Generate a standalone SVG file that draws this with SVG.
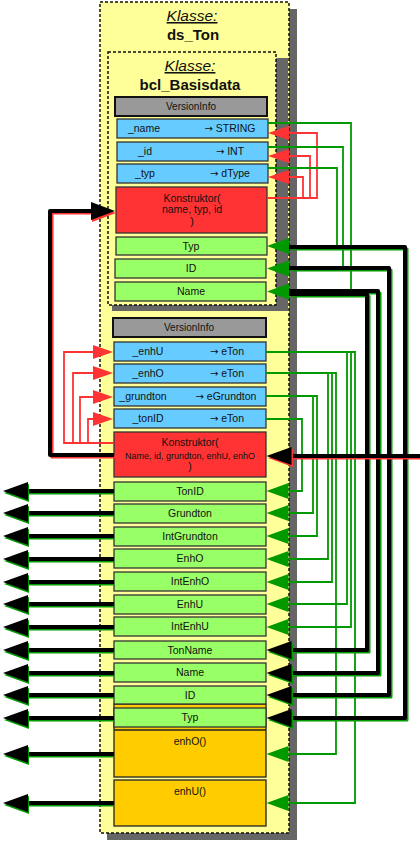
<svg xmlns="http://www.w3.org/2000/svg" width="420" height="841" viewBox="0 0 420 841">
<defs>
<style>
text{font-family:"Liberation Sans",Arial,sans-serif;fill:#111}
.t{font-size:10.5px;text-anchor:middle}
.ts{font-size:9px;text-anchor:middle}
.ar{font-family:"DejaVu Sans",sans-serif;font-size:10px}
.kl{font-size:15.5px;font-style:italic;text-decoration:underline;text-anchor:middle}
.cn{font-size:15px;font-weight:bold;text-anchor:middle}
.vi{fill:#999999;stroke:#111;stroke-width:2}
.fld{fill:#66CCFF;stroke:#333;stroke-width:1.3}
.ctor{fill:#FF3333;stroke:#333;stroke-width:1.3}
.get{fill:#99FF66;stroke:#333;stroke-width:1.3}
.mth{fill:#FFCC00;stroke:#222;stroke-width:1.3}
.cls{fill:#FFFF99;stroke:#111;stroke-width:1.5;stroke-dasharray:3 2}
.sh{fill:#666666}
.g{fill:none;stroke:#009900;stroke-width:1.8}
.r{fill:none;stroke:#FF3333;stroke-width:1.8}
.bk{fill:none;stroke:#000;stroke-width:4;stroke-linejoin:round}
.bkg{fill:none;stroke:#009900;stroke-width:3;stroke-linejoin:round}
.bkr{fill:none;stroke:#FF3333;stroke-width:3}
.ga{fill:#009900}
.ra{fill:#FF3333}
.ba{fill:#000}
</style>
<polygon id="ahL" points="0,0 22,-8 22,8"/>
<polygon id="ahLr" points="0,0 21,-7 21,7"/>
<polygon id="ahB" points="0,0 25,-9 25,9"/>
<polygon id="ahR" points="0,0 -20,-7 -20,7"/>
<polygon id="ahRB" points="0,0 -24,-9 -24,9"/>
<path id="bT" d="M292,718 H405 V247 H289"/>
<path id="bI" d="M292,695 H389 V268 H289"/>
<path id="bN" d="M292,673 H378 V291 H289"/>
<path id="bTN" d="M292,650 H367 V294 H289"/>
<path id="loop" d="M114,455 H50 V211 H92"/>
<path id="ext" d="M420,456 H290"/>
</defs>

<g id="ds_Ton">
<rect class="sh" x="107" y="9" width="190" height="831"/>
<rect class="cls" x="100" y="2" width="189" height="831"/>
<text class="kl" x="192" y="21">Klasse:</text>
<text class="cn" x="193" y="40">ds_Ton</text>
</g>

<g id="bcl_Basisdata">
<rect class="sh" x="112" y="58" width="176" height="253"/>
<rect class="cls" x="108" y="52" width="168" height="253"/>
<text class="kl" x="190" y="71">Klasse:</text>
<text class="cn" x="190" y="90">bcl_Basisdata</text>
</g>

<g id="b_versioninfo"><rect class="vi" x="115" y="97" width="152" height="19"/><text class="t" x="191" y="110" style="font-size:10px">VersionInfo</text></g>
<g id="b_name"><rect class="fld" x="117" y="119" width="151" height="19"/><text class="t" x="144" y="132">_name</text><text class="t" x="230" y="132"><tspan class="ar">→</tspan> STRING</text></g>
<g id="b_id"><rect class="fld" x="117" y="142" width="151" height="19"/><text class="t" x="145" y="155">_id</text><text class="t" x="230" y="155"><tspan class="ar">→</tspan> INT</text></g>
<g id="b_typ"><rect class="fld" x="117" y="164" width="151" height="19"/><text class="t" x="145" y="177">_typ</text><text class="t" x="230" y="177"><tspan class="ar">→</tspan> dType</text></g>
<g id="b_ctor"><rect class="ctor" x="116" y="187" width="151" height="46"/><text class="t" x="192" y="202">Konstruktor(</text><text class="t" x="192" y="213">name, typ, id</text><text class="t" x="192" y="225">)</text></g>
<g id="b_get_typ"><rect class="get" x="116" y="237" width="151" height="18"/><text class="t" x="191" y="250">Typ</text></g>
<g id="b_get_id"><rect class="get" x="115" y="259" width="151" height="19"/><text class="t" x="191" y="272">ID</text></g>
<g id="b_get_name"><rect class="get" x="115" y="282" width="151" height="19"/><text class="t" x="191" y="295">Name</text></g>

<g id="t_versioninfo"><rect class="vi" x="113" y="318" width="153" height="19"/><text class="t" x="189" y="331" style="font-size:10px">VersionInfo</text></g>
<g id="t_enhU"><rect class="fld" x="114" y="342" width="152" height="19"/><text class="t" x="148" y="355">_enhU</text><text class="t" x="227" y="355"><tspan class="ar">→</tspan> eTon</text></g>
<g id="t_enhO"><rect class="fld" x="114" y="364" width="152" height="19"/><text class="t" x="148" y="377">_enhO</text><text class="t" x="227" y="377"><tspan class="ar">→</tspan> eTon</text></g>
<g id="t_grundton"><rect class="fld" x="114" y="387" width="152" height="19"/><text class="t" x="143" y="400">_grundton</text><text class="t" x="226" y="400"><tspan class="ar">→</tspan> eGrundton</text></g>
<g id="t_tonID"><rect class="fld" x="114" y="409" width="152" height="19"/><text class="t" x="148" y="422">_tonID</text><text class="t" x="227" y="422"><tspan class="ar">→</tspan> eTon</text></g>
<g id="t_ctor"><rect class="ctor" x="114" y="432" width="152" height="45"/><text class="t" x="190" y="446">Konstruktor(</text><text class="ts" x="190" y="458.5">Name, id, grundton, enhU, enhO</text><text class="t" x="190" y="470">)</text></g>
<g id="t_TonID"><rect class="get" x="114" y="482" width="152" height="19"/><text class="t" x="190" y="495">TonID</text></g>
<g id="t_Grundton"><rect class="get" x="114" y="504" width="152" height="19"/><text class="t" x="190" y="517">Grundton</text></g>
<g id="t_IntGrundton"><rect class="get" x="114" y="527" width="152" height="19"/><text class="t" x="190" y="540">IntGrundton</text></g>
<g id="t_EnhO"><rect class="get" x="114" y="549" width="152" height="19"/><text class="t" x="190" y="562">EnhO</text></g>
<g id="t_IntEnhO"><rect class="get" x="114" y="572" width="152" height="19"/><text class="t" x="190" y="585">IntEnhO</text></g>
<g id="t_EnhU"><rect class="get" x="114" y="595" width="152" height="19"/><text class="t" x="190" y="608">EnhU</text></g>
<g id="t_IntEnhU"><rect class="get" x="114" y="617" width="152" height="19"/><text class="t" x="190" y="630">IntEnhU</text></g>
<g id="t_TonName"><rect class="get" x="114" y="641" width="152" height="18"/><text class="t" x="190" y="654">TonName</text></g>
<g id="t_Name"><rect class="get" x="114" y="663" width="152" height="19"/><text class="t" x="190" y="676">Name</text></g>
<g id="t_enhO_m"><rect class="mth" x="114" y="704" width="152" height="73"/><line x1="114" y1="730" x2="266" y2="730" stroke="#222" stroke-width="1.3"/><text class="t" x="190" y="745">enhO()</text></g>
<g id="t_ID"><rect class="get" x="114" y="686" width="152" height="18"/><text class="t" x="190" y="699">ID</text></g>
<g id="t_Typ"><rect class="get" x="114" y="708" width="152" height="19"/><text class="t" x="190" y="721">Typ</text></g>
<g id="t_enhU_m"><rect class="mth" x="114" y="780" width="152" height="46"/><text class="t" x="190" y="795">enhU()</text></g>

<g id="connectors">
<path class="r" d="M267,198 H317 V133 H289"/>
<path class="r" d="M310,198 V156 H289"/>
<path class="r" d="M303,198 V177 H289"/>
<use href="#ahLr" class="ra" x="268" y="133"/>
<use href="#ahLr" class="ra" x="268" y="156"/>
<use href="#ahLr" class="ra" x="268" y="177"/>
<path class="g" d="M268,123 H351 V291 H289"/>
<path class="g" d="M268,147 H343 V268 H289"/>
<path class="g" d="M268,168 H337 V246 H289"/>
<path class="g" d="M266,419 H302 V491 H289"/>
<path class="g" d="M266,396 H317 V536 H289"/>
<path class="g" d="M313,396 V513 H289"/>
<path class="g" d="M266,373 H336 V754 H289"/>
<path class="g" d="M328,373 V559 H289"/>
<path class="g" d="M332,373 V582 H289"/>
<path class="g" d="M266,352 H355 V803 H289"/>
<path class="g" d="M347,352 V604 H289"/>
<path class="g" d="M351,352 V627 H289"/>
<path class="r" d="M114,443 H64 V352 H93"/>
<path class="r" d="M73,443 V373 H93"/>
<path class="r" d="M80,443 V397 H93"/>
<path class="r" d="M88,443 V419 H93"/>
<use href="#ahR" class="ra" x="113" y="352"/>
<use href="#ahR" class="ra" x="113" y="373"/>
<use href="#ahR" class="ra" x="113" y="397"/>
<use href="#ahR" class="ra" x="113" y="419"/>
<use href="#bT" class="bkg" transform="translate(2,2)"/>
<use href="#bI" class="bkg" transform="translate(2,2)"/>
<use href="#bN" class="bkg" transform="translate(2,2)"/>
<use href="#bTN" class="bkg" transform="translate(2,2)"/>
<use href="#bT" class="bk"/>
<use href="#bI" class="bk"/>
<use href="#bN" class="bk"/>
<use href="#bTN" class="bk"/>
<use href="#ahL" class="ga" x="267" y="246"/>
<use href="#ahL" class="ga" x="267" y="268.5"/>
<use href="#ahL" class="ga" x="267" y="291.5"/>
<use href="#ahB" class="ga" x="268" y="652"/>
<use href="#ahB" class="ga" x="268" y="675"/>
<use href="#ahB" class="ga" x="268" y="697"/>
<use href="#ahB" class="ga" x="268" y="720"/>
<use href="#ahB" class="ba" x="266.5" y="650"/>
<use href="#ahB" class="ba" x="266.5" y="673"/>
<use href="#ahB" class="ba" x="266.5" y="695"/>
<use href="#ahB" class="ba" x="266.5" y="718"/>
<use href="#ahL" class="ga" x="266.5" y="491"/>
<use href="#ahL" class="ga" x="266.5" y="513"/>
<use href="#ahL" class="ga" x="266.5" y="536"/>
<use href="#ahL" class="ga" x="266.5" y="559"/>
<use href="#ahL" class="ga" x="266.5" y="582"/>
<use href="#ahL" class="ga" x="266.5" y="604"/>
<use href="#ahL" class="ga" x="266.5" y="627"/>
<use href="#ahL" class="ga" x="266.5" y="754"/>
<use href="#ahL" class="ga" x="266.5" y="803"/>
<use href="#loop" class="bkr" transform="translate(2,2)"/>
<use href="#loop" class="bk"/>
<use href="#ahRB" class="ra" x="116" y="213"/>
<use href="#ahRB" class="ba" x="115" y="211"/>
<use href="#ext" class="bkr" transform="translate(0,2)"/>
<use href="#ext" class="bk"/>
<use href="#ahB" class="ra" x="268" y="458"/>
<use href="#ahB" class="ba" x="266.5" y="456"/>
<g>
<path class="bkg" d="M114,493 H26 M114,515 H26 M114,538 H26 M114,561 H26 M114,584 H26 M114,606 H26 M114,629 H26 M114,652 H26 M114,675 H26 M114,697 H26 M114,720 H26 M114,756 H26 M114,805 H26"/>
<path class="bk" d="M114,491 H26 M114,513 H26 M114,536 H26 M114,559 H26 M114,582 H26 M114,604 H26 M114,627 H26 M114,650 H26 M114,673 H26 M114,695 H26 M114,718 H26 M114,754 H26 M114,803 H26"/>
<use href="#ahB" class="ga" x="4" y="493"/>
<use href="#ahB" class="ga" x="4" y="515"/>
<use href="#ahB" class="ga" x="4" y="538"/>
<use href="#ahB" class="ga" x="4" y="561"/>
<use href="#ahB" class="ga" x="4" y="584"/>
<use href="#ahB" class="ga" x="4" y="606"/>
<use href="#ahB" class="ga" x="4" y="629"/>
<use href="#ahB" class="ga" x="4" y="652"/>
<use href="#ahB" class="ga" x="4" y="675"/>
<use href="#ahB" class="ga" x="4" y="697"/>
<use href="#ahB" class="ga" x="4" y="720"/>
<use href="#ahB" class="ga" x="4" y="756"/>
<use href="#ahB" class="ga" x="4" y="805"/>
<use href="#ahB" class="ba" x="3" y="491"/>
<use href="#ahB" class="ba" x="3" y="513"/>
<use href="#ahB" class="ba" x="3" y="536"/>
<use href="#ahB" class="ba" x="3" y="559"/>
<use href="#ahB" class="ba" x="3" y="582"/>
<use href="#ahB" class="ba" x="3" y="604"/>
<use href="#ahB" class="ba" x="3" y="627"/>
<use href="#ahB" class="ba" x="3" y="650"/>
<use href="#ahB" class="ba" x="3" y="673"/>
<use href="#ahB" class="ba" x="3" y="695"/>
<use href="#ahB" class="ba" x="3" y="718"/>
<use href="#ahB" class="ba" x="3" y="754"/>
<use href="#ahB" class="ba" x="3" y="803"/>
</g>
</g>
</svg>
